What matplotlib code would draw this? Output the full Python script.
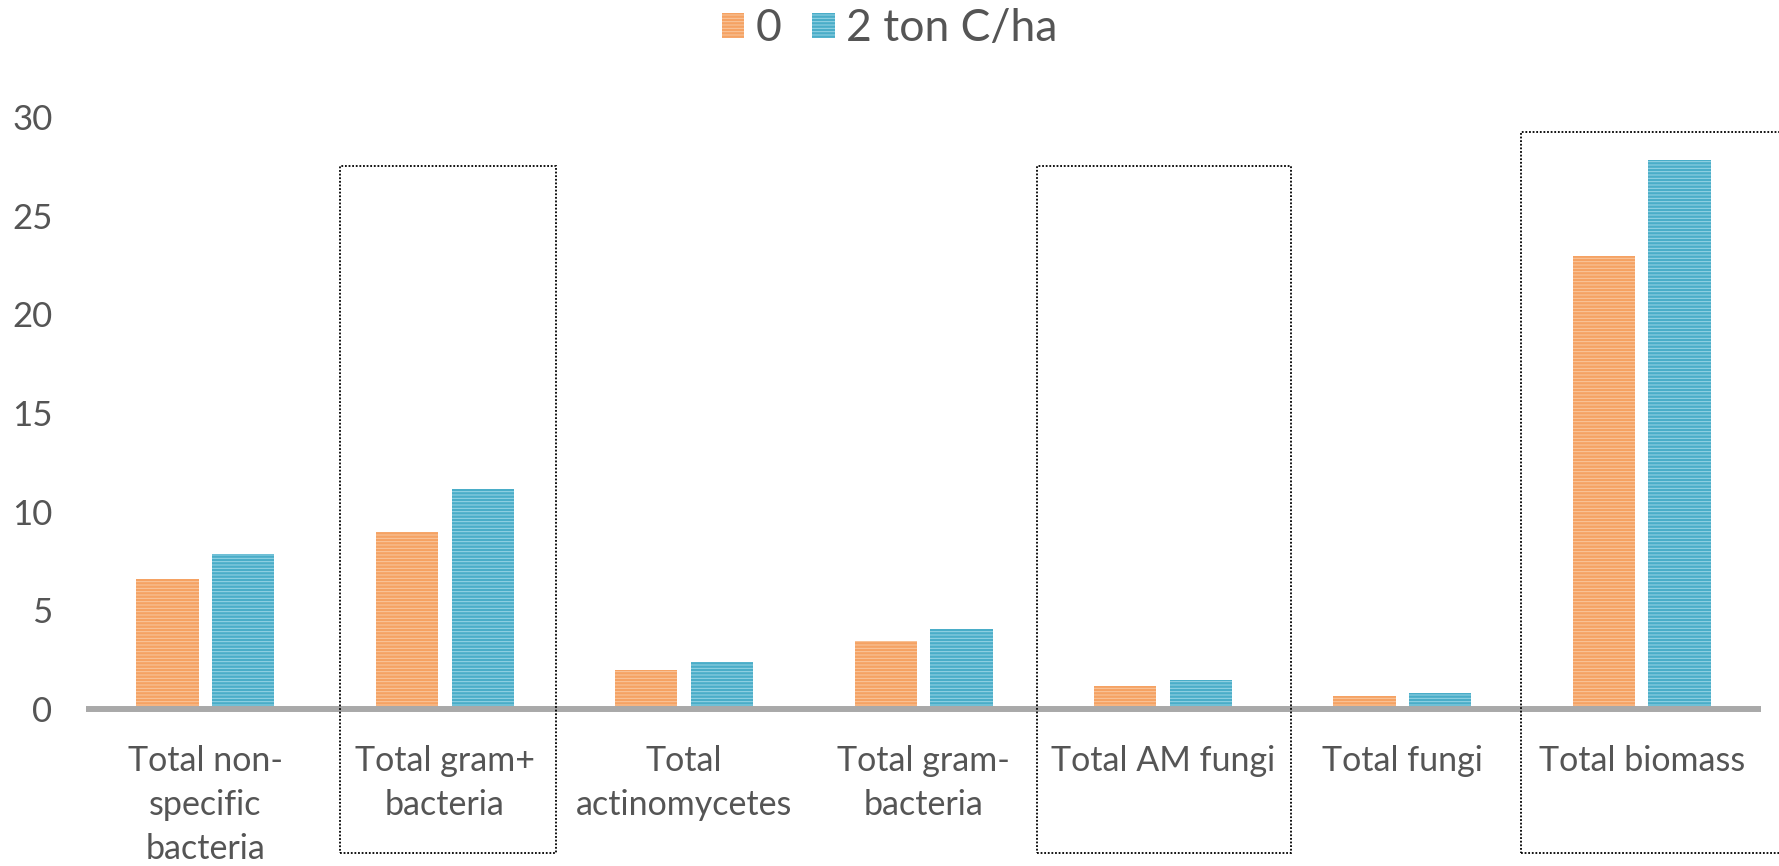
import matplotlib
matplotlib.use("Agg")
import matplotlib.pyplot as plt
from matplotlib.patches import Rectangle
import numpy as np

plt.rcParams['font.family'] = ['Lato', 'DejaVu Sans']
plt.rcParams['hatch.linewidth'] = 0.7

categories = ["Total non-\nspecific\nbacteria", "Total gram+\nbacteria", "Total\nactinomycetes",
              "Total gram-\nbacteria", "Total AM fungi", "Total fungi", "Total biomass"]
control = [6.6, 8.95, 2.0, 3.45, 1.18, 0.68, 22.95]
amended = [7.85, 11.15, 2.4, 4.07, 1.49, 0.81, 27.8]
series_names = ["0", "2 ton C/ha"]
yticks = [0, 5, 10, 15, 20, 25, 30]

# dotted frames around highlighted groups: (left, right, top) in data units
frames = [(0.562, 1.464, 27.5), (3.474, 4.535, 27.5), (5.495, 6.8, 29.25)]
frame_bottom = -7.28

text_color = "#555555"
orange, orange_line = "#F5A263", "#F9C8A0"
blue, blue_line = "#4AADC8", "#9AD6E6"

fig = plt.figure(figsize=(17.79, 8.66), dpi=100)
ax = fig.add_axes([0.0482, 0.1813, 0.9419, 0.6836])

x = np.arange(len(categories))
w = 0.26
off = 0.158
b1 = ax.bar(x - off, control, w, color=orange, edgecolor=orange_line, linewidth=0,
            hatch="-----", label=series_names[0])
b2 = ax.bar(x + off, amended, w, color=blue, edgecolor=blue_line, linewidth=0,
            hatch="-----", label=series_names[1])

ax.set_xlim(-0.5, len(categories) - 0.5)
ax.set_ylim(0, 30)
ax.set_yticks(yticks)
ax.set_xticks(x)
ax.set_xticklabels(categories, linespacing=1.45)
ax.tick_params(axis='y', length=0, pad=24, labelsize=25, labelcolor=text_color)
ax.tick_params(axis='x', length=0, pad=26, labelsize=24.5, labelcolor=text_color)

for s in ['top', 'right', 'left']:
    ax.spines[s].set_visible(False)
ax.spines['bottom'].set_color("#A9A9A9")
ax.spines['bottom'].set_linewidth(4.3)
ax.spines['bottom'].set_capstyle('butt')

for left, right, top in frames:
    ax.add_patch(Rectangle((left, frame_bottom), right - left, top - frame_bottom,
                           fill=False, edgecolor="black", linewidth=1.3,
                           linestyle=(0, (1, 1)), clip_on=False, zorder=5))

fig.legend(handles=[b1, b2], labels=series_names, loc="center", bbox_to_anchor=(0.5, 0.967),
           ncol=2, frameon=False, fontsize=32, labelcolor=text_color,
           handlelength=0.5, handleheight=0.5, handletextpad=0.25, columnspacing=0.7)

fig.savefig("out.png", dpi=100)
